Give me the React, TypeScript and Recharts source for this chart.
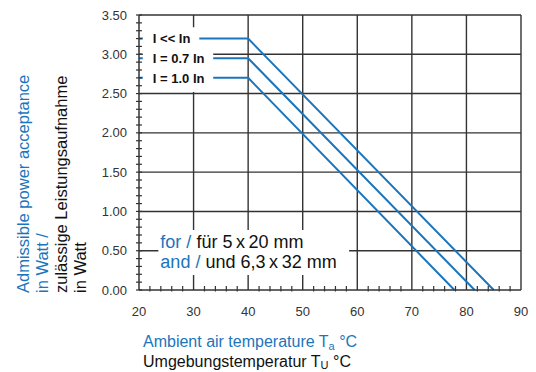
import React from 'react';
import { LineChart, Line, XAxis, YAxis, ReferenceLine, ReferenceArea } from 'recharts';

const BLUE = '#1b75bc';
const GRID = '#333';
const FONT = '"Liberation Sans", Arial, Helvetica, sans-serif';

// curves: flat up to the knee, then linear derating to zero
const currents = ['I << In', 'I = 0.7 In', 'I = 1.0 In'];
const startTemp = 20;
const kneeTemp = 40;
const ratedPower = [3.2, 2.95, 2.7];
const zeroPowerTemp = [85, 81.5, 77.8];

const xMajor = [20, 30, 40, 50, 60, 70, 80, 90];
const yMajor = [0, 0.5, 1, 1.5, 2, 2.5, 3, 3.5];
const noteLines = [
  ['for / ', 'für 5\u2009x\u200920 mm'],
  ['and / ', 'und 6,3\u2009x\u200932 mm'],
];

// minor ticks every 2 °C and every 0.1 W
const xTicks: number[] = [];
for (let i = 20; i <= 90; i += 2) xTicks.push(i);
const yTicks: number[] = [];
for (let i = 0; i <= 35; i++) yTicks.push(i / 10);

const curves = currents.map((name, i) => ({
  name,
  points: [
    { t: startTemp, p: ratedPower[i] },
    { t: kneeTemp, p: ratedPower[i] },
    { t: zeroPowerTemp[i], p: 0 },
  ],
}));

// white boxes behind the curve labels (data coords)
const labelBoxes = [
  { x1: 20.7, x2: 31.05, y1: 3.065, y2: 3.345 },
  { x1: 20.7, x2: 33.6, y1: 2.82, y2: 3.08 },
  { x1: 20.7, x2: 33.6, y1: 2.52, y2: 2.83 },
];
const noteBox = { x1: 23.55, x2: 58.5, y1: 0.19, y2: 0.763 };

const XTick = (props: any) => {
  const { x, y, payload } = props;
  const v = payload.value;
  const major = v % 10 === 0;
  return (
    <g>
      {!major && <line x1={x} x2={x} y1={y - 4} y2={y + 1.5} stroke={GRID} strokeWidth={1.2} />}
      {major && (
        <text x={x} y={y + 26} textAnchor="middle" fontSize={13} fill="#333" fontFamily={FONT}>
          {v}
        </text>
      )}
    </g>
  );
};

const YTick = (props: any) => {
  const { x, y, payload } = props;
  const v = payload.value;
  const major = Math.abs(v * 2 - Math.round(v * 2)) < 1e-6;
  return (
    <g>
      <line x1={x - 3} x2={x + 3} y1={y} y2={y} stroke={GRID} strokeWidth={1.2} />
      {major && (
        <text x={x - 12} y={y + 4.5} textAnchor="end" fontSize={13} fill="#333" fontFamily={FONT}>
          {v.toFixed(2)}
        </text>
      )}
    </g>
  );
};

export default function App() {
  return (
    <div style={{ position: 'absolute', left: 0, top: 0, width: 536, height: 372, background: '#fff' }}>
      <LineChart width={536} height={372} margin={{ top: 15, right: 15, bottom: 42, left: 0 }}>
        <XAxis
          dataKey="t"
          type="number"
          domain={[20, 90]}
          ticks={xTicks}
          interval={0}
          tick={<XTick />}
          tickLine={false}
          tickSize={0}
          tickMargin={0}
          height={40}
          axisLine={{ stroke: GRID, strokeWidth: 1.5 }}
        />
        <YAxis
          type="number"
          domain={[0, 3.5]}
          ticks={yTicks}
          interval={0}
          tick={<YTick />}
          tickLine={false}
          tickSize={0}
          tickMargin={0}
          width={139}
          axisLine={{ stroke: GRID, strokeWidth: 1.5 }}
        />
        {xMajor.slice(1).map((v) => (
          <ReferenceLine key={'x' + v} x={v} stroke={GRID} strokeWidth={1.4} zIndex={-50} />
        ))}
        {yMajor.slice(1).map((v) => (
          <ReferenceLine key={'y' + v} y={v} stroke={GRID} strokeWidth={1.4} zIndex={-50} />
        ))}
        {curves.map((c) => (
          <Line
            key={c.name}
            data={c.points}
            dataKey="p"
            name={c.name}
            type="linear"
            stroke={BLUE}
            strokeWidth={2}
            dot={false}
            activeDot={false}
            isAnimationActive={false}
          />
        ))}
        {labelBoxes.map((b, i) => (
          <ReferenceArea
            key={'lb' + i}
            {...b}
            fill="#fff"
            fillOpacity={1}
            stroke="none"
            zIndex={800}
            label={(p: any) => {
              const vb = p.viewBox;
              return (
                <text
                  x={vb.x + 10}
                  y={vb.y + vb.height / 2 + 4.5 - (i === 2 ? 1 : 0)}
                  fontSize={13}
                  fontWeight="bold"
                  fill="#111"
                  fontFamily={FONT}
                >
                  {currents[i]}
                </text>
              );
            }}
          />
        ))}
        <ReferenceArea
          {...noteBox}
          fill="#fff"
          fillOpacity={1}
          stroke="none"
          zIndex={800}
          label={(p: any) => {
            const vb = p.viewBox;
            return (
              <g fontFamily={FONT} fontSize={18}>
                {noteLines.map((l, i) => (
                  <text key={i} x={vb.x + 2} y={vb.y + 17.7 + i * 20.6}>
                    <tspan fill={BLUE}>{l[0]}</tspan>
                    <tspan fill="#111">{l[1]}</tspan>
                  </text>
                ))}
              </g>
            );
          }}
        />
      </LineChart>
      <svg
        width={536}
        height={372}
        style={{ position: 'absolute', left: 0, top: 0, pointerEvents: 'none' }}
        fontFamily={FONT}
      >
        <g fontSize={16.5}>
          <text transform="translate(28.5,293) rotate(-90)" fill={BLUE}>Admissible power acceptance</text>
          <text transform="translate(48,293) rotate(-90)" fill={BLUE}>in Watt /</text>
          <text transform="translate(67,293) rotate(-90)" fill="#111">zulässige Leistungsaufnahme</text>
          <text transform="translate(86,293) rotate(-90)" fill="#111">in Watt</text>
        </g>
        <g fontSize={16}>
          <text x={143} y={347} fill={BLUE}>
            Ambient air temperature T<tspan dy={2.5} fontSize={11}>a</tspan>
            <tspan dy={-2.5}> °C</tspan>
          </text>
          <text x={143} y={367} fill="#111">
            Umgebungstemperatur T<tspan dy={2} fontSize={11}>U</tspan>
            <tspan dy={-2}> °C</tspan>
          </text>
        </g>
      </svg>
    </div>
  );
}
